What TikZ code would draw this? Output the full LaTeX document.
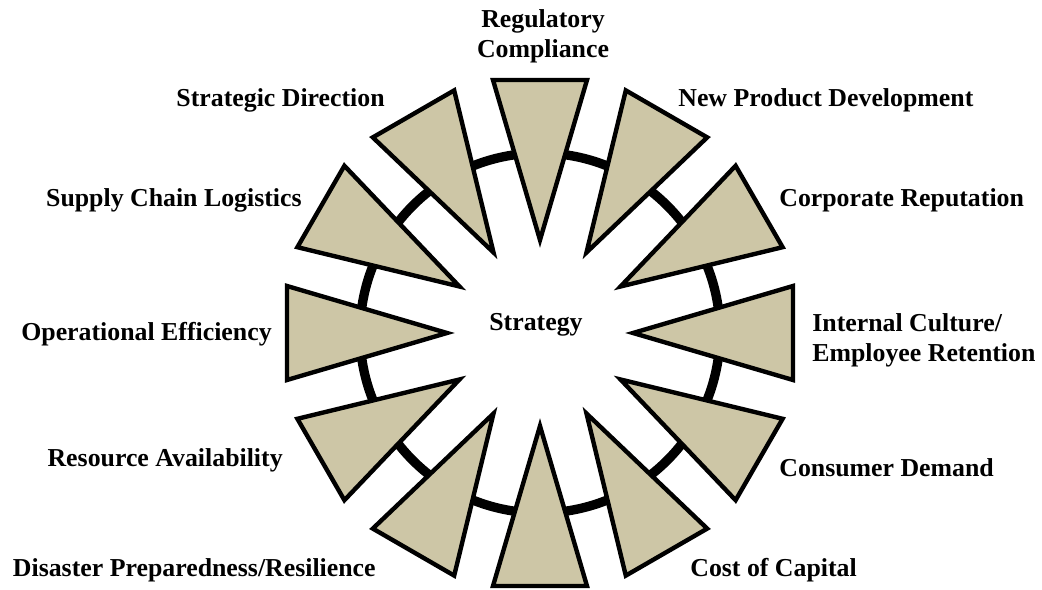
\documentclass[tikz,border=0pt]{standalone}
\usepackage{fontspec}
\setmainfont{Liberation Serif}
\usepackage{tikz}
\definecolor{wedgetan}{RGB}{205,198,166}

\begin{document}
\begin{tikzpicture}[x=0.02cm, y=-0.02cm,
  every node/.style={font=\bfseries\fontsize{14.7}{17}\selectfont, inner sep=0pt},
  wedge/.style={draw=black, fill=wedgetan, line width=2.5pt, line join=miter},
  ring/.style={draw=black, line width=5.3pt}]
			\useasboundingbox (0,0) rectangle (1042,590);
			\coordinate (hub) at (540,333);
			\draw[ring] (hub) circle (180);
			\foreach \a in {0,30,...,330}{
				\begin{scope}[shift={(hub)}, rotate=\a]
					\draw[wedge] (93,0) -- (253,47) -- (253,-47) -- cycle;
				\end{scope}
			}
			\node (strat) at (536,325) {Strategy};
			\node[align=center] (reg) at (543,36) {Regulatory\\Compliance};
			\node[anchor=east] (dir) at (385,100) {Strategic Direction};
			\node[anchor=west] (npd) at (678,100) {New Product Development};
			\node[anchor=east] (scl) at (302,200) {Supply Chain Logistics};
			\node[anchor=west] (rep) at (779,200) {Corporate Reputation};
			\node[anchor=east] (ops) at (272,334) {Operational Efficiency};
			\node[anchor=west, align=left] (cult) at (812,340) {Internal Culture/\\Employee Retention};
			\node[anchor=east] (res) at (283,460) {Resource Availability};
			\node[anchor=west] (dem) at (779,468) {Consumer Demand};
			\node[anchor=east] (dis) at (376,570) {Disaster Preparedness/Resilience};
			\node[anchor=west] (cap) at (690,570) {Cost of Capital};
			\end{tikzpicture}
\end{document}
